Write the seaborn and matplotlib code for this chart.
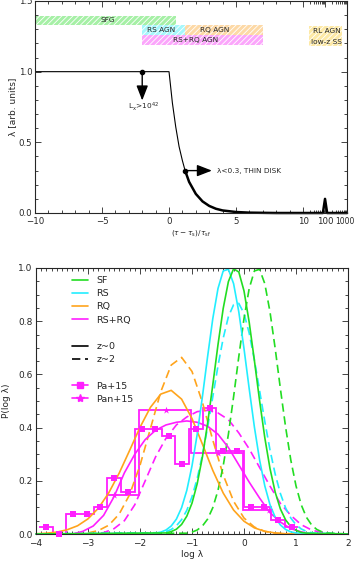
import numpy as np
import matplotlib
matplotlib.use('Agg')
import matplotlib.pyplot as plt
import seaborn as sns
from matplotlib.lines import Line2D
from matplotlib.ticker import FixedLocator, FixedFormatter, MultipleLocator

sns.set_style('ticks')
plt.rcParams['font.family'] = ['DejaVu Sans']
plt.rcParams['hatch.linewidth'] = 0.6
plt.rcParams['axes.linewidth'] = 0.8

# ---------------- top panel data: lambda(tau) ----------------
tau_thin = [-10, 0, 0.25, 0.5, 0.75, 1.0, 1.2]
lam_thin = [1.0, 1.0, 0.78, 0.61, 0.47, 0.37, 0.30]
tau_thick = [1.2, 1.5, 2.0, 2.5, 3.0, 3.5, 4.0, 5.0, 6.0, 8.0, 10.0, 80, 100, 125, 1000]
lam_thick = [0.30, 0.22, 0.135, 0.082, 0.05, 0.03, 0.018, 0.007, 0.0025, 0.0, 0.0, 0.0, 0.10, 0.0, 0.0]

band_labels = ['SFG', 'RS AGN', 'RQ AGN', 'RS+RQ AGN', '']
band_start = [-10, -2, 1.2, -2, 19]
band_end = [0.5, 1.2, 7, 7, 600]
band_low = [1.331, 1.261, 1.261, 1.188, 1.183]
band_high = [1.397, 1.329, 1.329, 1.258, 1.324]
band_colors = ['#a6f0a6', '#a6f7fb', '#fdd9a6', '#fba6fb', '#fde9a6']
band_text_x = [-4.6, -0.6, 3.4, 1.95, 0]

arrow_x0 = [-2, 1.2]
arrow_y0 = [1.0, 0.3]
arrow_x1 = [-2, 3.2]
arrow_y1 = [0.796, 0.3]

top_ticks = [-10, -5, 0, 5, 10, 100, 1000]
top_tick_labels = ['\u221210', '\u22125', '0', '5', '10', '100', '']

# ---------------- bottom panel data: P(log lambda) ----------------
sf_z0_x = [-4.0, -1.5, -1.4, -1.3, -1.2, -1.1, -1.0, -0.9, -0.8, -0.7, -0.6, -0.5, -0.4, -0.3, -0.2,
           -0.1, 0.0, 0.1, 0.2, 0.3, 0.4, 0.5, 0.6, 0.7, 0.8, 0.9, 1.0, 1.1, 1.2, 2.0]
sf_z0_y = [0, 0.004, 0.009, 0.018, 0.036, 0.067, 0.116, 0.189, 0.289, 0.416, 0.561, 0.712, 0.848, 0.949, 0.997,
           0.985, 0.914, 0.796, 0.652, 0.501, 0.362, 0.246, 0.157, 0.094, 0.053, 0.028, 0.014, 0.006, 0.003, 0]

rs_z0_x = [-4.0, -1.7, -1.6, -1.5, -1.4, -1.3, -1.2, -1.1, -1.0, -0.9, -0.8, -0.7, -0.6, -0.5, -0.4,
           -0.3, -0.2, -0.1, 0.0, 0.1, 0.2, 0.3, 0.4, 0.5, 0.6, 0.7, 0.8, 0.9, 1.0, 2.0]
rs_z0_y = [0, 0.003, 0.007, 0.015, 0.030, 0.056, 0.099, 0.164, 0.256, 0.375, 0.516, 0.667, 0.810, 0.923, 0.989,
           0.995, 0.941, 0.835, 0.697, 0.546, 0.402, 0.278, 0.181, 0.110, 0.063, 0.034, 0.017, 0.008, 0.004, 0]

sf_z2_x = [-4.0, -1.1, -1.0, -0.9, -0.8, -0.7, -0.6, -0.5, -0.4, -0.3, -0.2, -0.1, 0.0, 0.1, 0.2,
           0.3, 0.4, 0.5, 0.6, 0.7, 0.8, 0.9, 1.0, 1.1, 1.2, 1.3, 1.4, 1.5, 1.6, 2.0]
sf_z2_y = [0, 0.003, 0.007, 0.015, 0.030, 0.056, 0.099, 0.164, 0.256, 0.375, 0.516, 0.667, 0.810, 0.923, 0.989,
           0.995, 0.941, 0.835, 0.697, 0.546, 0.402, 0.278, 0.181, 0.110, 0.063, 0.034, 0.017, 0.008, 0.004, 0]

rs_z2_x = [-4.0, -1.6, -1.5, -1.4, -1.3, -1.2, -1.1, -1.0, -0.9, -0.8, -0.7, -0.6, -0.5, -0.4, -0.3, -0.2,
           -0.1, 0.0, 0.1, 0.2, 0.3, 0.4, 0.5, 0.6, 0.7, 0.8, 0.9, 1.0, 1.1, 1.2, 1.3, 1.4, 2.0]
rs_z2_y = [0, 0.005, 0.009, 0.017, 0.031, 0.054, 0.089, 0.140, 0.209, 0.297, 0.401, 0.516, 0.632, 0.736, 0.817, 0.862,
           0.867, 0.829, 0.755, 0.654, 0.539, 0.423, 0.316, 0.225, 0.152, 0.098, 0.060, 0.035, 0.019, 0.010, 0.005, 0.002, 0]

rq_z0_x = [-4.0, -3.8, -3.6, -3.4, -3.2, -3.0, -2.8, -2.6, -2.4, -2.2, -2.0, -1.8, -1.6, -1.4,
           -1.2, -1.0, -0.8, -0.6, -0.4, -0.2, 0.0, 0.2, 0.4, 0.6, 0.8, 2.0]
rq_z0_y = [0.001, 0.003, 0.007, 0.016, 0.031, 0.057, 0.097, 0.155, 0.229, 0.314, 0.401, 0.476, 0.526, 0.540,
           0.507, 0.434, 0.338, 0.239, 0.154, 0.090, 0.048, 0.023, 0.010, 0.004, 0.001, 0]

rq_z2_x = [-4.0, -3.2, -3.0, -2.8, -2.6, -2.4, -2.2, -2.0, -1.8, -1.6, -1.4, -1.2,
           -1.0, -0.8, -0.6, -0.4, -0.2, 0.0, 0.2, 0.4, 0.6, 0.8, 2.0]
rq_z2_y = [0, 0.001, 0.004, 0.013, 0.033, 0.075, 0.148, 0.258, 0.396, 0.535, 0.635, 0.664,
           0.611, 0.495, 0.353, 0.222, 0.123, 0.060, 0.026, 0.010, 0.003, 0.001, 0]

rsrq_z0_x = [-4.0, -3.3, -3.1, -2.9, -2.7, -2.5, -2.3, -2.1, -1.9, -1.7, -1.5, -1.3, -1.1,
             -0.9, -0.7, -0.5, -0.3, -0.1, 0.1, 0.3, 0.5, 0.7, 0.9, 1.1, 1.3, 2.0]
rsrq_z0_y = [0, 0.0, 0.01, 0.03, 0.07, 0.14, 0.23, 0.30, 0.355, 0.39, 0.41, 0.42, 0.425,
             0.42, 0.405, 0.375, 0.325, 0.26, 0.195, 0.135, 0.08, 0.045, 0.02, 0.008, 0.0, 0]

rsrq_z2_x = [-4.0, -2.9, -2.7, -2.5, -2.3, -2.1, -1.9, -1.7, -1.5, -1.3, -1.1, -0.9, -0.7,
             -0.5, -0.3, -0.1, 0.1, 0.3, 0.5, 0.7, 0.9, 1.1, 1.3, 1.5, 1.7, 2.0]
rsrq_z2_y = [0, 0.0, 0.005, 0.02, 0.05, 0.11, 0.20, 0.29, 0.36, 0.41, 0.44, 0.46, 0.465,
             0.455, 0.43, 0.38, 0.32, 0.25, 0.18, 0.115, 0.07, 0.035, 0.015, 0.005, 0.0, 0]

# Pa+15 histogram (bin centres, values)
pa_centers = np.array([-3.81, -3.55, -3.285, -3.02, -2.76, -2.50, -2.235, -1.97, -1.71, -1.45,
                       -1.185, -0.92, -0.66, -0.40, -0.135, 0.13, 0.39, 0.655, 0.915])
pa_values = np.array([0.025, 0.0, 0.077, 0.077, 0.103, 0.209, 0.157, 0.393, 0.393, 0.367,
                      0.262, 0.393, 0.474, 0.312, 0.312, 0.103, 0.103, 0.053, 0.027])

# Pan+15 histogram (bin edges, values, star positions)
pan_edges = np.array([-2.63, -2.02, -1.02, -0.02, 0.53])
pan_values = np.array([0.147, 0.465, 0.303, 0.09])
pan_star_x = [-2.5, -1.5, -0.5, 0.48]

GREEN = '#22dd22'
CYAN = '#22eeff'
ORANGE = '#ffa41c'
MAGENTA = '#ff1eff'
DASH = (0, (5, 2.8))


def fwd(t):
    t = np.asarray(t, dtype=float)
    return np.where(t <= 10, t, 10 + 1.64 * np.log10(np.maximum(t, 10) / 10))


def inv(u):
    u = np.asarray(u, dtype=float)
    return np.where(u <= 10, u, 10 * 10 ** ((np.minimum(u, 20) - 10) / 1.64))


fig = plt.figure(figsize=(3.56, 5.63), dpi=100)

# ================= top panel =================
ax1 = fig.add_axes([35 / 356, 350 / 563, 312 / 356, 212 / 563])
ax1.set_xscale('function', functions=(fwd, inv))

for s, e, lo, hi, c in zip(band_start, band_end, band_low, band_high, band_colors):
    ax1.fill_between([s, e], lo, hi, facecolor=c, edgecolor='white', hatch='//////', linewidth=0)
for lab, tx, lo, hi in zip(band_labels, band_text_x, band_low, band_high):
    if lab:
        ax1.text(tx, (lo + hi) / 2, lab, fontsize=5.3, ha='center', va='center')
ax1.text(125, 1.289, 'RL AGN', fontsize=5.3, ha='center', va='center')
ax1.text(112, 1.212, 'low-z SS', fontsize=5.3, ha='center', va='center')

sns.lineplot(x=tau_thin, y=lam_thin, ax=ax1, color='black', lw=0.8, errorbar=None)
sns.lineplot(x=tau_thick, y=lam_thick, ax=ax1, color='black', lw=1.8, errorbar=None, clip_on=False)

ax1.plot(arrow_x0, arrow_y0, 'o', color='black', ms=3)
for x0, y0, x1, y1 in zip(arrow_x0, arrow_y0, arrow_x1, arrow_y1):
    ax1.annotate('', xy=(x1, y1), xytext=(x0, y0),
                 arrowprops=dict(arrowstyle='-|>,head_length=0.9,head_width=0.35',
                                 color='black', lw=1.0, shrinkA=0, shrinkB=0, mutation_scale=10))
ax1.text(-1.9, 0.752, r'L$_{\rm x}$>10$^{42}$', fontsize=5.3, ha='center', va='center')
ax1.text(3.6, 0.30, 'λ<0.3, THIN DISK', fontsize=5.3, ha='left', va='center')

ax1.set_xlim(-10, 1000)
ax1.set_ylim(0, 1.5)
ax1.xaxis.set_major_locator(FixedLocator(top_ticks))
ax1.xaxis.set_major_formatter(FixedFormatter(top_tick_labels))
ax1.xaxis.set_minor_locator(FixedLocator(list(range(-10, 11)) + list(range(20, 100, 10)) + list(range(200, 1000, 100))))
ax1.yaxis.set_major_locator(MultipleLocator(0.5))
ax1.yaxis.set_minor_locator(MultipleLocator(0.1))
ax1.tick_params(which='both', direction='in', top=True, right=True, labelsize=6.2, width=0.6, pad=2)
ax1.tick_params(axis='x', pad=3)
ax1.tick_params(which='major', length=4)
ax1.tick_params(which='minor', length=2)
# last tick label of the compressed log part, nudged left like the original
ax1.annotate('1000', xy=(1000, 0), xycoords=('data', 'axes fraction'), xytext=(-1.8, -3),
             textcoords='offset points', ha='center', va='top', fontsize=5.5)
ax1.set_xlabel(r'$(\tau-\tau_{\rm s})/\tau_{\rm sf}$', fontsize=5.3)
ax1.xaxis.set_label_coords(0.5, -0.07)
ax1.set_ylabel('λ [arb. units]', fontsize=6.5)
ax1.yaxis.set_label_coords(-0.057, 0.5)

# ================= bottom panel =================
ax2 = fig.add_axes([36 / 356, 29 / 563, 312 / 356, 266 / 563])

curves = [
    (rsrq_z2_x, rsrq_z2_y, MAGENTA, DASH),
    (rq_z2_x, rq_z2_y, ORANGE, DASH),
    (rs_z2_x, rs_z2_y, CYAN, DASH),
    (sf_z2_x, sf_z2_y, GREEN, DASH),
    (rsrq_z0_x, rsrq_z0_y, MAGENTA, '-'),
    (rq_z0_x, rq_z0_y, ORANGE, '-'),
    (rs_z0_x, rs_z0_y, CYAN, '-'),
    (sf_z0_x, sf_z0_y, GREEN, '-'),
]
for xs, ys, c, ls in curves:
    sns.lineplot(x=xs, y=ys, ax=ax2, color=c, lw=1.2, linestyle=ls, errorbar=None, clip_on=False)

# Pa+15 step histogram
mids = (pa_centers[1:] + pa_centers[:-1]) / 2
pa_edges = np.concatenate([[pa_centers[0] - (pa_centers[1] - pa_centers[0]) / 2], mids,
                           [pa_centers[-1] + (pa_centers[-1] - pa_centers[-2]) / 2]])
ax2.stairs(pa_values, pa_edges, baseline=None, color=MAGENTA, lw=1.3)
sns.scatterplot(x=pa_centers, y=pa_values, ax=ax2, marker='s', color=MAGENTA, s=16,
                edgecolor=MAGENTA, linewidth=0, clip_on=False, zorder=5)

# Pan+15 step histogram
ax2.stairs(pan_values, pan_edges, baseline=None, color=MAGENTA, lw=1.3)
sns.scatterplot(x=pan_star_x, y=pan_values, ax=ax2, marker='*', color=MAGENTA, s=30,
                edgecolor=MAGENTA, linewidth=0, zorder=5)

ax2.set_xlim(-4, 2)
ax2.set_ylim(0, 1.0)
ax2.xaxis.set_major_locator(MultipleLocator(1))
ax2.xaxis.set_minor_locator(MultipleLocator(0.1))
ax2.yaxis.set_major_locator(MultipleLocator(0.2))
ax2.yaxis.set_minor_locator(MultipleLocator(0.05))
ax2.tick_params(which='both', direction='in', top=True, right=True, labelsize=6.5, width=0.6, pad=2.5)
ax2.tick_params(axis='x', pad=3.5)
ax2.tick_params(which='major', length=4)
ax2.tick_params(which='minor', length=2)
ax2.set_xlabel('log λ', fontsize=6.5)
ax2.xaxis.set_label_coords(0.5, -0.062)
ax2.set_ylabel('P(log λ)', fontsize=6.5)
ax2.yaxis.set_label_coords(-0.08, 0.5)

blank = Line2D([], [], color='none')
handles = [
    Line2D([], [], color=GREEN, lw=1.2),
    Line2D([], [], color=CYAN, lw=1.2),
    Line2D([], [], color=ORANGE, lw=1.2),
    Line2D([], [], color=MAGENTA, lw=1.2),
    blank,
    Line2D([], [], color='black', lw=1.2),
    Line2D([], [], color='black', lw=1.2, linestyle=DASH),
    blank,
    Line2D([], [], color=MAGENTA, lw=1.2, marker='s', ms=4),
    Line2D([], [], color=MAGENTA, lw=1.2, marker='*', ms=6),
]
labels = ['SF', 'RS', 'RQ', 'RS+RQ', ' ', 'z~0', 'z~2', ' ', 'Pa+15', 'Pan+15']
ax2.legend(handles, labels, loc='upper left', bbox_to_anchor=(0.115, 0.97), frameon=False,
           fontsize=6.8, handlelength=1.7, handletextpad=0.9, labelspacing=0.445,
           borderpad=0, borderaxespad=0)

fig.savefig('out.png', dpi=100)
